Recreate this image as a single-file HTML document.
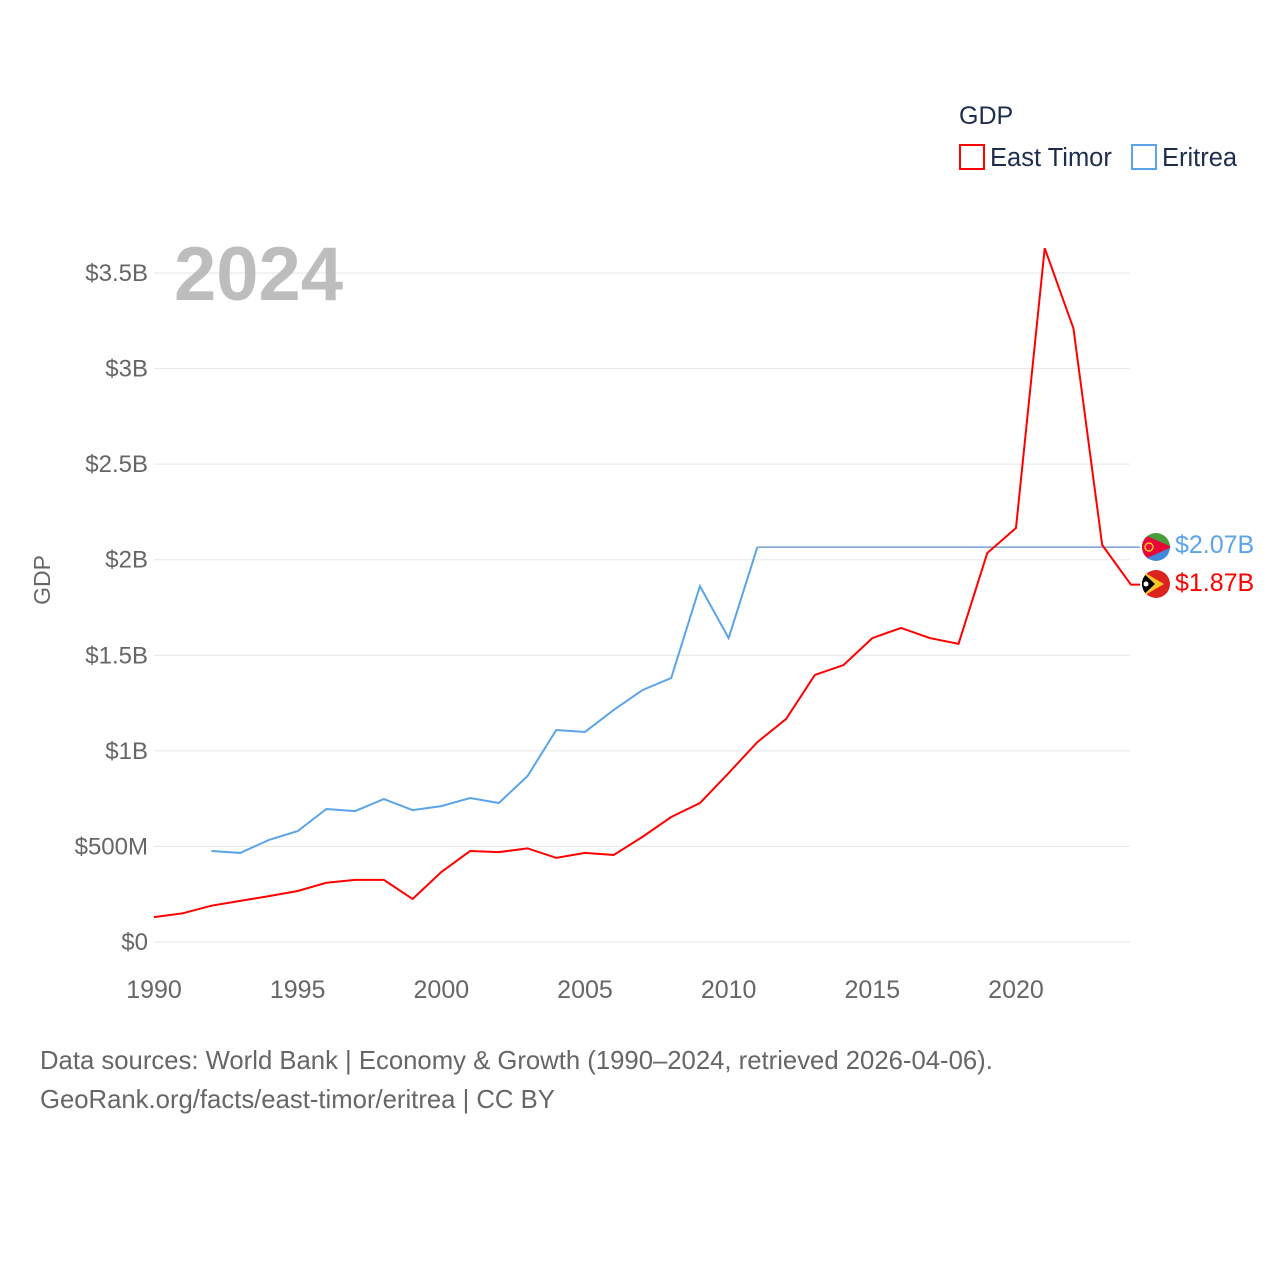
<!DOCTYPE html>
<html><head><meta charset="utf-8"><style>
body{margin:0;background:#fff;font-family:"Liberation Sans",sans-serif}
</style></head><body>
<svg width="1280" height="1280" viewBox="0 0 1280 1280" font-family="Liberation Sans, sans-serif">
<g id="grid"></g>
<g id="yticks"></g>
<g id="xticks"></g>
<text x="174" y="300" font-size="76" font-weight="bold" fill="#bdbdbd">2024</text>
<text x="50" y="580" font-size="23" fill="#666" transform="rotate(-90 50 580)" text-anchor="middle">GDP</text>
<g id="series"></g>
<g>
<text x="959" y="124" font-size="25" fill="#1f2d4d">GDP</text>
<g><rect x="960" y="145" width="24" height="24" fill="none" stroke="#f00" stroke-width="2"/><text x="990" y="166" font-size="25.5" fill="#1f2d4d">East Timor</text></g>
<g><rect x="1132" y="145" width="24" height="24" fill="none" stroke="#5ba4ea" stroke-width="2"/><text x="1162" y="166" font-size="25.5" fill="#1f2d4d">Eritrea</text></g>
</g>
<g>
<g><clipPath id="c1"><circle cx="1156" cy="547" r="14"/></clipPath><g clip-path="url(#c1)"><rect x="1140" y="533" width="32" height="14" fill="#4a9c3a"/><rect x="1140" y="547" width="32" height="14" fill="#4189dd"/><polygon points="1140,533 1172,547 1140,561" fill="#ea0437"/><circle cx="1149" cy="547" r="4" fill="none" stroke="#ffc726" stroke-width="1.5"/></g></g>
<text x="1175" y="553" font-size="25" fill="#5ba4ea">$2.07B</text>
<g><clipPath id="c2"><circle cx="1156" cy="584" r="14"/></clipPath><g clip-path="url(#c2)"><rect x="1140" y="570" width="32" height="28" fill="#dc241f"/><polygon points="1140,570 1164,584 1140,598" fill="#ffc726"/><polygon points="1140,570 1155,584 1140,598" fill="#000"/><circle cx="1146" cy="584" r="2.5" fill="#fff"/></g></g>
<text x="1175" y="591" font-size="25" fill="#f00">$1.87B</text>
</g>
<text x="40" y="1069" font-size="25.7" fill="#666">Data sources: World Bank | Economy &amp; Growth (1990–2024, retrieved 2026-04-06).</text>
<text x="40" y="1108" font-size="25.7" fill="#666">GeoRank.org/facts/east-timor/eritrea | CC BY</text>
</svg>
<script>
const years=[1990,1991,1992,1993,1994,1995,1996,1997,1998,1999,2000,2001,2002,2003,2004,2005,2006,2007,2008,2009,2010,2011,2012,2013,2014,2015,2016,2017,2018,2019,2020,2021,2022,2023,2024];
const eastTimor=[0.13,0.15,0.19,0.215,0.24,0.267,0.31,0.325,0.325,0.225,0.366,0.476,0.47,0.49,0.44,0.466,0.455,0.55,0.654,0.727,0.884,1.046,1.167,1.397,1.449,1.59,1.643,1.59,1.56,2.035,2.166,3.63,3.21,2.077,1.87];
const eritrea=[null,null,0.476,0.466,0.534,0.58,0.696,0.685,0.748,0.69,0.711,0.753,0.727,0.868,1.109,1.099,1.214,1.318,1.381,1.862,1.59,2.066,null,null,null,null,null,null,null,null,null,null,null,null,null];
const eritreaLast=2.066;
const yTicks=[0,0.5,1,1.5,2,2.5,3,3.5];
const yTickLabels=["$0","$500M","$1B","$1.5B","$2B","$2.5B","$3B","$3.5B"];
const xTicks=[1990,1995,2000,2005,2010,2015,2020];
const NS="http://www.w3.org/2000/svg";
const X=y=>154+(y-1990)*28.733;
const Y=v=>942-v*191.14;
function mk(t,a,p){const e=document.createElementNS(NS,t);for(const k in a)e.setAttribute(k,a[k]);p.appendChild(e);return e;}
const grid=document.getElementById('grid'),yt=document.getElementById('yticks'),xt=document.getElementById('xticks'),ser=document.getElementById('series');
yTicks.forEach((v,i)=>{
 const l=mk('line',{x1:154,x2:1130,y1:Y(v),y2:Y(v),stroke:'#e6e6e6','stroke-width':1},grid);
 
 
 const t=mk('text',{x:148,y:Y(v)+8,'font-size':24,fill:'#666','text-anchor':'end'},yt);
 t.textContent=yTickLabels[i];
 
 
});
xTicks.forEach(y=>{
 const t=mk('text',{x:X(y),y:998,'font-size':25,fill:'#666','text-anchor':'middle'},xt);
 t.textContent=y;
 
 
});
let lastIdx=-1,pts=[];
eritrea.forEach((v,i)=>{if(v!=null){pts.push(X(years[i])+','+Y(v));lastIdx=i;}});
const fl=mk('line',{x1:X(years[lastIdx]),y1:Y(eritreaLast),x2:1140,y2:Y(eritreaLast),stroke:'#5b8fc7','stroke-width':1.2},ser);


const pe=mk('polyline',{points:pts.join(' '),fill:'none',stroke:'#5ba4ea','stroke-width':2},ser);


const ptE=eastTimor.map((v,i)=>X(years[i])+','+Y(v));
ptE.push('1140,'+Y(eastTimor[eastTimor.length-1]));
const pt=mk('polyline',{points:ptE.join(' '),fill:'none',stroke:'#f00','stroke-width':2},ser);


</script>
</body></html>
